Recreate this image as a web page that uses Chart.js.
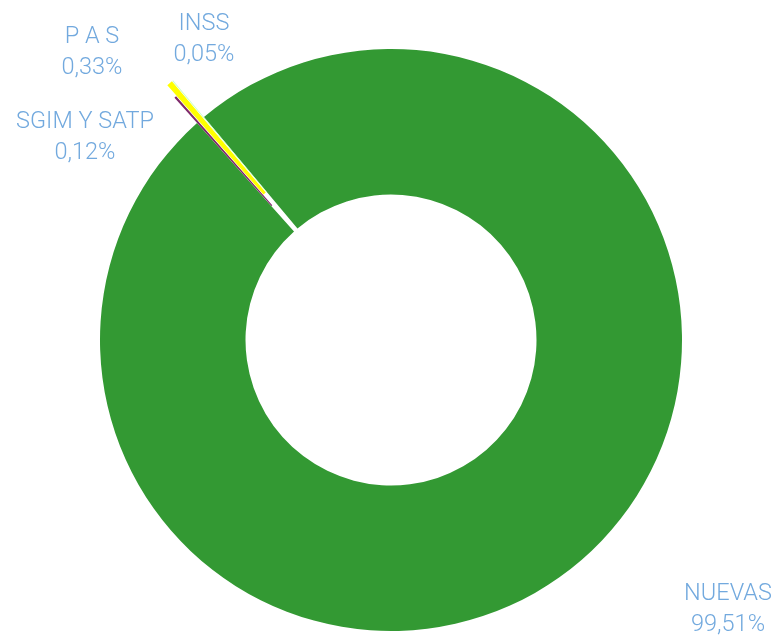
<!DOCTYPE html>
<html>
<head>
  <meta charset="utf-8">
  <title>Distribución</title>
  <script src="https://cdn.jsdelivr.net/npm/chart.js@4.4.0/dist/chart.umd.min.js"></script>
  <style>
    html, body { margin: 0; padding: 0; background: #fff; }
    #wrap { width: 776px; height: 639px; position: relative; }
  </style>
</head>
<body>
<div id="wrap">
  <canvas id="canvas"></canvas>
</div>
<script>
// datos del grafico
var categorias = ['NUEVAS', 'SGIM Y SATP', 'P A S', 'INSS'];
var valores = [99.51, 0.12, 0.33, 0.05];
var etiquetas = ['99,51%', '0,12%', '0,33%', '0,05%'];
var colores = ['#339933', '#7f2a6b', '#ffff00', '#ccffcc'];
// cuanto se separa cada porcion (px)
var separacion = [0, 34, 48, 48];

// donde va cada etiqueta (centro del texto, primera linea)
var posEtiquetas = [
  { x: 728, y: 594 },
  { x: 85, y: 122 },
  { x: 92, y: 37 },
  { x: 204, y: 24 }
];

// el offset de chart.js adelgaza las porciones finas, asi que las
// movemos nosotros trasladando el contexto antes de dibujar cada arco
var separarPlugin = {
  id: 'separar',
  beforeDatasetsDraw: function(chart) {
    var arcs = chart.getDatasetMeta(0).data;
    arcs.forEach(function(arc, i) {
      if (arc._separado || !separacion[i]) return;
      var dibujar = arc.draw;
      arc.draw = function(ctx) {
        var a = (this.startAngle + this.endAngle) / 2;
        ctx.save();
        ctx.translate(Math.cos(a) * separacion[i], Math.sin(a) * separacion[i]);
        dibujar.call(this, ctx);
        ctx.restore();
      };
      arc._separado = true;
    });
  }
};

var etiquetasPlugin = {
  id: 'etiquetas',
  afterDatasetsDraw: function(chart) {
    var ctx = chart.ctx;
    ctx.save();
    ctx.font = '300 23.5px Roboto, "Open Sans", sans-serif';
    ctx.fillStyle = '#72a9de';
    ctx.textAlign = 'center';
    ctx.textBaseline = 'middle';
    for (var i = 0; i < categorias.length; i++) {
      var p = posEtiquetas[i];
      ctx.fillText(categorias[i], p.x, p.y);
      ctx.fillText(etiquetas[i], p.x, p.y + 31);
    }
    ctx.restore();
  }
};

var config = {
  type: 'doughnut',
  data: {
    labels: categorias,
    datasets: [{
      data: valores,
      backgroundColor: colores,
      borderWidth: 0
    }]
  },
  options: {
    responsive: true,
    maintainAspectRatio: false,
    animation: false,
    rotation: -40,
    cutout: '50%',
    radius: 291,
    layout: {
      padding: { top: 41, bottom: 0, left: 6, right: 0 }
    },
    plugins: {
      legend: { display: false },
      tooltip: { enabled: false },
      title: { display: false }
    }
  },
  plugins: [separarPlugin, etiquetasPlugin]
};

window.myDona = new Chart(document.getElementById('canvas'), config);
</script>
</body>
</html>
